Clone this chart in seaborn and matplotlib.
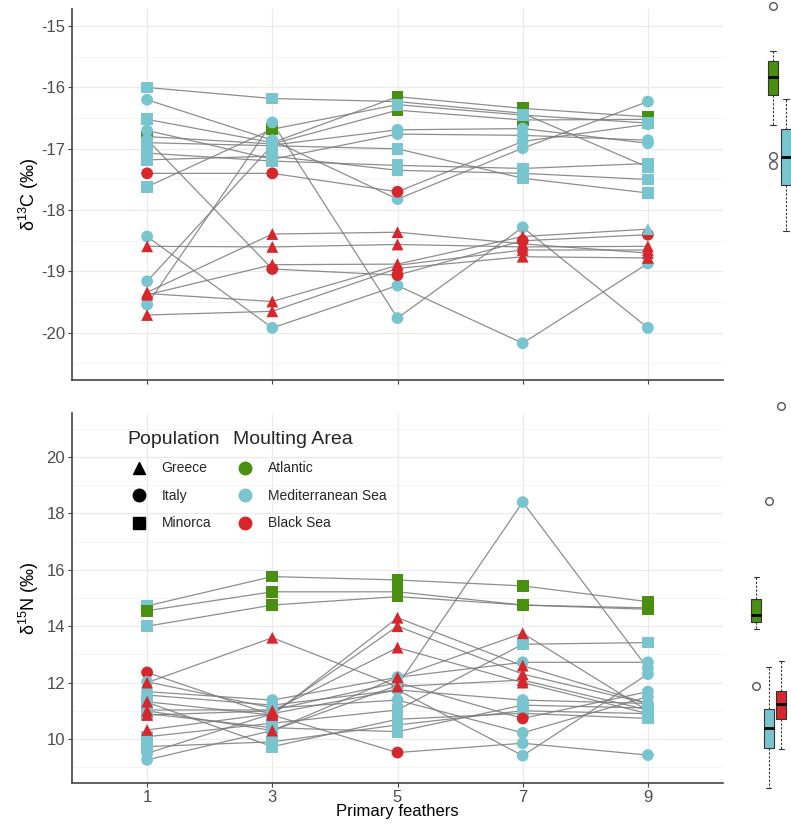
import numpy as np
import pandas as pd
import matplotlib
matplotlib.use("Agg")
import matplotlib.pyplot as plt
import seaborn as sns
from matplotlib.lines import Line2D
from matplotlib.ticker import MultipleLocator

# ---------------- data ----------------
feathers = [1, 3, 5, 7, 9]
birds = ["M1", "M2", "M3", "M4", "M5", "M6", "M7",
         "I1", "I2", "I3", "I4", "I5", "I6", "I7",
         "G1", "G2", "G3", "G4", "G5"]
population = ["Minorca"] * 7 + ["Italy"] * 7 + ["Greece"] * 5

# delta 13C per primary feather (one value per bird)
c13_p1 = [-16.00, -16.52, -16.80, -16.90, -17.07, -17.18, -17.62,
          -16.20, -16.70, -17.40, -18.43, -19.16, -19.54, -16.85,
          -18.59, -19.34, -19.38, -19.71, -19.36]
c13_p3 = [-16.18, -16.90, -16.92, -16.95, -17.20, -17.12, -16.68,
          -16.86, -17.17, -17.40, -19.92, -16.94, -16.57, -18.96,
          -18.60, -18.39, -18.89, -19.65, -19.49]
c13_p5 = [-16.23, -16.15, -16.37, -17.00, -17.27, -17.35, -16.28,
          -17.82, -16.76, -17.70, -19.23, -16.69, -19.76, -19.06,
          -18.56, -18.36, -18.88, -18.95, -18.90]
c13_p7 = [-16.42, -16.34, -16.53, -17.48, -17.32, -17.40, -16.45,
          -16.99, -16.78, -16.88, -20.17, -16.67, -18.28, -18.50,
          -18.60, -18.55, -18.43, -18.76, -18.65]
c13_p9 = [-17.30, -16.48, -16.52, -17.72, -17.24, -17.50, -16.58,
          -16.23, -16.86, -16.60, -18.87, -16.91, -19.92, -18.40,
          -18.59, -18.70, -18.31, -18.78, -18.65]
# moulting area per feather (A = Atlantic, M = Mediterranean Sea, B = Black Sea)
a13_p1 = list("MMAMMMM") + list("MMBMMMM") + list("BBBBB")
a13_p3 = list("MMMMMMA") + list("MMBMMMB") + list("BBBBB")
a13_p5 = list("MAAMMMM") + list("MMBMMMB") + list("BBBBB")
a13_p7 = list("MAAMMMM") + list("MMMMMMB") + list("BBBBB")
a13_p9 = list("MAAMMMM") + list("MMMMMMB") + list("BBMBB")

# delta 15N per primary feather
n15_p1 = [14.72, 14.55, 14.00, 10.08, 9.73, 10.90, 11.30,
          11.68, 11.56, 12.36, 9.26, 12.03, 9.49, 11.03,
          12.00, 11.32, 10.32, 10.85, 11.00]
n15_p3 = [15.76, 15.22, 14.75, 10.56, 9.90, 10.40, 9.73,
          11.38, 11.20, 10.85, 10.30, 11.10, 10.90, 11.03,
          13.59, 10.85, 10.90, 11.00, 10.30]
n15_p5 = [15.64, 15.22, 15.05, 11.03, 10.50, 10.26, 10.70,
          12.19, 11.74, 9.52, 11.90, 11.38, 11.74, 12.00,
          11.86, 14.30, 14.00, 13.24, 12.19]
n15_p7 = [15.43, 14.75, 14.75, 13.36, 11.00, 11.20, 10.91,
          12.72, 11.38, 9.85, 18.40, 10.22, 9.41, 10.73,
          12.09, 12.60, 12.30, 12.00, 13.75]
n15_p9 = [14.87, 14.60, 14.65, 13.42, 10.90, 11.10, 10.73,
          12.72, 11.26, 9.43, 12.50, 11.50, 12.30, 11.68,
          11.03, 11.26, 11.26, 10.90, 11.00]
a15_p1 = list("MAMMMMM") + list("MMBMMMM") + list("BBBBB")
a15_p3 = list("AAAMMMM") + list("MMBMMMM") + list("BBBBB")
a15_p5 = list("AAAMMMM") + list("MMBBMMM") + list("BBBBB")
a15_p7 = list("AAAMMMM") + list("MMMMMMB") + list("BBBBB")
a15_p9 = list("AAAMMMM") + list("MMMMMMM") + list("MMMMM")

# marginal distributions (per moulting area)
box13_atlantic = [-17.26, -17.12, -16.61, -16.12, -16.00, -15.90, -15.83,
                  -15.75, -15.65, -15.57, -15.50, -15.41, -14.67]
box13_med = [-18.34, -17.90, -17.59, -17.35, -17.13, -16.90, -16.68, -16.40, -16.19]
box15_atlantic = [11.88, 13.90, 14.00, 14.15, 14.25, 14.32, 14.40,
                  14.60, 14.80, 14.96, 15.20, 15.50, 15.74]
box15_med = [8.26, 9.00, 9.40, 9.68, 9.90, 10.20, 10.39,
             10.60, 10.85, 11.06, 11.60, 12.55, 18.44]
box15_black = [9.65, 10.20, 10.50, 10.71, 10.90, 11.10, 11.24,
               11.40, 11.55, 11.70, 12.20, 12.77, 21.80]

area_names = {"A": "Atlantic", "M": "Mediterranean Sea", "B": "Black Sea"}
area_order = ["Atlantic", "Mediterranean Sea", "Black Sea"]
palette = {"Atlantic": "#4A9010", "Mediterranean Sea": "#78C4CF", "Black Sea": "#D7262C"}
pop_markers = {"Greece": "^", "Italy": "o", "Minorca": "s"}


def long_frame(values, areas):
    rows = []
    for f, vals, ars in zip(feathers, values, areas):
        for b, p, v, a in zip(birds, population, vals, ars):
            rows.append({"bird": b, "pop": p, "feather": f, "value": v,
                         "area": area_names[a]})
    return pd.DataFrame(rows)


df13 = long_frame([c13_p1, c13_p3, c13_p5, c13_p7, c13_p9],
                  [a13_p1, a13_p3, a13_p5, a13_p7, a13_p9])
df15 = long_frame([n15_p1, n15_p3, n15_p5, n15_p7, n15_p9],
                  [a15_p1, a15_p3, a15_p5, a15_p7, a15_p9])

box13 = pd.DataFrame({"area": ["Atlantic"] * len(box13_atlantic) + ["Mediterranean Sea"] * len(box13_med),
                      "value": box13_atlantic + box13_med})
box15 = pd.DataFrame({"area": ["Atlantic"] * len(box15_atlantic) + ["Mediterranean Sea"] * len(box15_med)
                      + ["Black Sea"] * len(box15_black),
                      "value": box15_atlantic + box15_med + box15_black})

# ---------------- style ----------------
sns.set_style("white")
plt.rcParams["font.family"] = ["Liberation Sans", "DejaVu Sans"]
plt.rcParams["mathtext.fontset"] = "custom"
plt.rcParams["mathtext.rm"] = "Liberation Sans"
plt.rcParams["mathtext.default"] = "regular"

W, H = 791, 826
fig = plt.figure(figsize=(W / 100, H / 100), dpi=100)


def px_axes(x0, y0, x1, y1):
    return fig.add_axes([x0 / W, 1 - y1 / H, (x1 - x0) / W, (y1 - y0) / H])


def style_main(ax, ylim, major, minor, show_xlabels):
    ax.set_xlim(-0.2, 10.2)
    ax.set_ylim(*ylim)
    ax.set_xticks(feathers)
    ax.yaxis.set_major_locator(MultipleLocator(major))
    ax.yaxis.set_minor_locator(MultipleLocator(minor))
    ax.grid(which="major", color="#ebebeb", lw=0.9)
    ax.grid(which="minor", axis="y", color="#f3f3f3", lw=0.6)
    ax.set_axisbelow(True)
    for s in ["top", "right"]:
        ax.spines[s].set_visible(False)
    for s in ["left", "bottom"]:
        ax.spines[s].set_color("#444444")
        ax.spines[s].set_linewidth(1.2)
    ax.tick_params(axis="both", which="major", length=3, width=0.8, color="#444444",
                   labelsize=12, labelcolor="#4d4d4d", pad=2, left=True, bottom=True)
    ax.tick_params(which="minor", length=0)
    if not show_xlabels:
        ax.tick_params(axis="x", labelbottom=False)


def draw_panel(ax, df):
    sns.lineplot(data=df, x="feather", y="value", units="bird", estimator=None,
                 color="#7a7a7a", lw=0.9, alpha=0.85, legend=False, ax=ax, zorder=1)
    sns.scatterplot(data=df, x="feather", y="value", hue="area", style="pop",
                    palette=palette, markers=pop_markers, s=72, linewidth=0,
                    legend=False, ax=ax, zorder=3)


# top panel
ax1 = px_axes(72, 9, 723, 380)
draw_panel(ax1, df13)
style_main(ax1, (-20.77, -14.72), 1, 0.5, False)
ax1.set_xlabel("")
ax1.set_ylabel("δ$^{13}$C (‰)", fontsize=13, color="black")
ax1.yaxis.set_label_coords(-0.047, 0.5)
ax1.set_yticks([-20, -19, -18, -17, -16, -15])
ax1.set_yticklabels(["-20", "-19", "-18", "-17", "-16", "-15"])

# bottom panel
ax2 = px_axes(72, 413, 723, 783)
draw_panel(ax2, df15)
style_main(ax2, (8.44, 21.56), 2, 1, True)
ax2.set_xlabel("Primary feathers", fontsize=12, color="black", labelpad=-1)
ax2.set_ylabel("δ$^{15}$N (‰)", fontsize=13, color="black")
ax2.yaxis.set_label_coords(-0.047, 0.5)

# legend
pop_handles = [Line2D([], [], marker=pop_markers[p], color="black", ls="none", markersize=9)
               for p in ["Greece", "Italy", "Minorca"]]
area_handles = [Line2D([], [], marker="o", color=palette[a], ls="none", markersize=9)
                for a in area_order]
leg_kw = dict(frameon=False, loc="upper left", borderpad=0, borderaxespad=0,
              fontsize=10, title_fontsize=14, alignment="left",
              handlelength=1.7, handletextpad=0.8, labelspacing=0.97,
              bbox_transform=fig.transFigure)
leg1 = ax2.legend(pop_handles, ["Greece", "Italy", "Minorca"], title="Population",
                  bbox_to_anchor=(127 / W, 1 - 431 / H), **leg_kw)
ax2.add_artist(leg1)
leg2 = ax2.legend(area_handles, area_order, title="Moulting Area",
                  bbox_to_anchor=(233 / W, 1 - 431 / H), **leg_kw)

# marginal box plots
box_kw = dict(width=0.8, linewidth=0.8, linecolor="#333333", legend=False, saturation=1,
              whiskerprops={"linestyle": (0, (2, 1.5)), "color": "#333333"},
              capprops={"color": "#333333"},
              medianprops={"color": "black", "linewidth": 2},
              flierprops={"marker": "o", "markerfacecolor": "white",
                          "markeredgecolor": "#555555", "markersize": 5.5})

bx1 = px_axes(760, 0, 791, 380)
sns.boxplot(data=box13, x="area", y="value", hue="area", order=area_order[:2],
            palette=palette, ax=bx1, **box_kw)
bx1.set_xlim(-1.0, 1.385)
bx1.set_ylim(-15 - (380 - 26) / 61.4, -15 + 26 / 61.4)
bx1.axis("off")

bx2 = px_axes(740, 395, 791, 800)
sns.boxplot(data=box15, x="area", y="value", hue="area", order=area_order,
            palette=palette, ax=bx2, **box_kw)
bx2.set_xlim(-1.28, 2.8)
bx2.set_ylim(10 + (739 - 800) / 28.2, 10 + (739 - 395) / 28.2)
bx2.axis("off")

fig.savefig("out.png", dpi=100)
